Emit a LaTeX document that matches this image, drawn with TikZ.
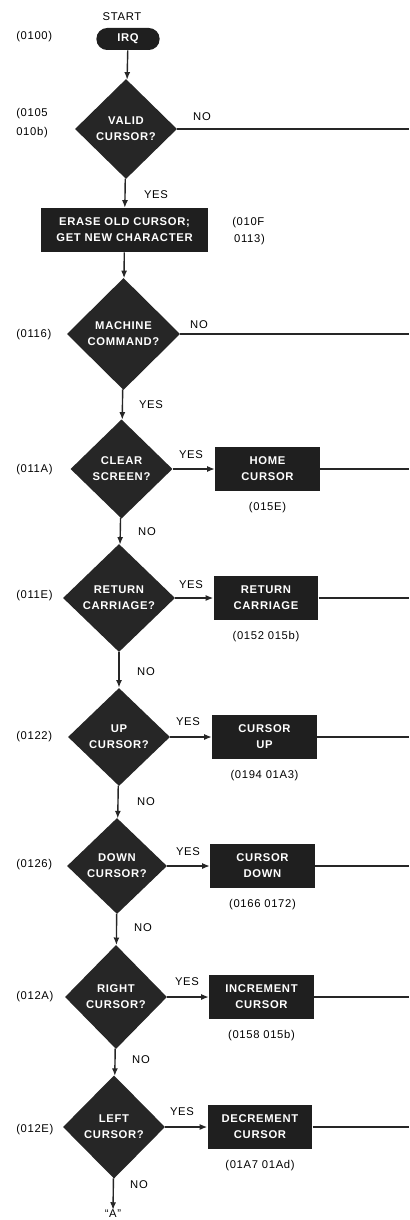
\documentclass[tikz,border=0pt]{standalone}
\usepackage{fontspec}
\setmainfont{Liberation Sans}[LetterSpace=6]
\usetikzlibrary{arrows.meta, positioning, shapes.geometric}
\newcommand{\flowfont}{\fontsize{8}{11.4}\selectfont}
\tikzset{
  decision/.style={diamond, fill=black!85, text=white, font=\flowfont\bfseries, align=center, inner sep=0pt, minimum width=2.55cm, minimum height=2.5cm},
  process/.style={rectangle, fill=black!88, text=white, font=\flowfont\bfseries, align=center, inner sep=1mm, minimum width=2.62cm, minimum height=1.12cm},
  terminal/.style={rectangle, rounded corners=2.7mm, fill=black!88, text=white, font=\flowfont\bfseries, minimum width=1.58cm, minimum height=0.55cm},
  addr/.style={anchor=west, align=left, inner sep=0pt, font=\flowfont},
  tag/.style={inner sep=0pt, font=\flowfont},
  arrow/.style={-{Latex[length=1.9mm, width=1.5mm]}, line width=1pt, draw=black!85},
  line/.style={line width=1pt, draw=black!85}
}

\begin{document}
\begin{tikzpicture}[x=0.025cm, y=-0.025cm]
\useasboundingbox (0,0) rectangle (409,1220);
\coordinate (edge) at (409,0);

% main column
\node[tag] (start) at (122,17) {START};
\node[terminal] (irq) at (128,39) {IRQ};
\node[decision] (valid) at (126,129) {VALID\\CURSOR?};
\node[process, minimum width=4.18cm, minimum height=1.1cm] (erase) at (124.5,230) {ERASE OLD CURSOR;\\GET NEW CHARACTER};
\node[decision, minimum width=2.83cm, minimum height=2.8cm] (machine) at (123.5,334) {MACHINE\\COMMAND?};
\node[decision, minimum height=2.48cm] (clear) at (121.5,469) {CLEAR\\SCREEN?};
\node[decision, minimum width=2.8cm, minimum height=2.7cm] (retcar) at (119,598) {RETURN\\CARRIAGE?};
\node[decision, minimum height=2.45cm] (upcur) at (119,737) {UP\\CURSOR?};
\node[decision, minimum width=2.5cm, minimum height=2.4cm] (downcur) at (117,866) {DOWN\\CURSOR?};
\node[decision, minimum height=2.6cm] (rightcur) at (116,997) {RIGHT\\CURSOR?};
\node[decision, minimum height=2.58cm] (leftcur) at (114,1127) {LEFT\\CURSOR?};
\node[tag] (exitA) at (113,1214) {``A''};

% action boxes
\node[process] (homebox) at (267.5,469) {HOME\\CURSOR};
\node[process] (retbox) at (266,598) {RETURN\\CARRIAGE};
\node[process] (upbox) at (264.5,737) {CURSOR\\UP};
\node[process] (downbox) at (262.5,866) {CURSOR\\DOWN};
\node[process] (incbox) at (261.5,997) {INCREMENT\\CURSOR};
\node[process] (decbox) at (260,1127) {DECREMENT\\CURSOR};

% addresses
\node[addr] (a0100) at (16,37) {(0100)};
\node[addr] (a0105) at (16,123) {(0105\\[2pt]010b)};
\node[addr] (a010F) at (232,231) {(010F\\[1pt]\,0113)};
\node[addr] (a0116) at (16,335) {(0116)};
\node[addr] (a011A) at (16,470) {(011A)};
\node[addr] (a011E) at (16,596) {(011E)};
\node[addr] (a0122) at (16,737) {(0122)};
\node[addr] (a0126) at (16,865) {(0126)};
\node[addr] (a012A) at (16,997) {(012A)};
\node[addr] (a012E) at (16,1130) {(012E)};
\node[tag, below=2.7mm of homebox] (a015E) {(015E)};
\node[tag, below=2.7mm of retbox] (a0152) {(0152 015b)};
\node[tag, below=2.7mm of upbox] (a0194) {(0194 01A3)};
\node[tag, below=2.7mm of downbox] (a0166) {(0166 0172)};
\node[tag, below=2.7mm of incbox] (a0158) {(0158 015b)};
\node[tag, below=2.7mm of decbox] (a01A7) {(01A7 01Ad)};

% yes / no
\node[tag] (no1) at (202,117) {NO};
\node[tag] (yes1) at (156,195) {YES};
\node[tag] (no2) at (199,325) {NO};
\node[tag] (yes2) at (151,405) {YES};
\node[tag] (yes3) at (191,455) {YES};
\node[tag] (no3) at (147,532) {NO};
\node[tag] (yes4) at (191,585) {YES};
\node[tag] (no4) at (146,672) {NO};
\node[tag] (yes5) at (188,722) {YES};
\node[tag] (no5) at (146,802) {NO};
\node[tag] (yes6) at (188,852) {YES};
\node[tag] (no6) at (143,928) {NO};
\node[tag] (yes7) at (187,982) {YES};
\node[tag] (no7) at (141,1060) {NO};
\node[tag] (yes8) at (182,1112) {YES};
\node[tag] (no8) at (139,1185) {NO};

% connectors
\draw[arrow] (irq) -- (valid);
\draw[arrow] (valid) -- (erase);
\draw[arrow] (erase) -- (machine);
\draw[arrow] (machine) -- (clear);
\draw[arrow] (clear) -- (retcar);
\draw[arrow] (retcar) -- (upcur);
\draw[arrow] (upcur) -- (downcur);
\draw[arrow] (downcur) -- (rightcur);
\draw[arrow] (rightcur) -- (leftcur);
\draw[arrow] (leftcur) -- (exitA);
\draw[arrow] (clear) -- (homebox);
\draw[arrow] (retcar) -- (retbox);
\draw[arrow] (upcur) -- (upbox);
\draw[arrow] (downcur) -- (downbox);
\draw[arrow] (rightcur) -- (incbox);
\draw[arrow] (leftcur) -- (decbox);
\draw[line] (valid.east) -- (valid.east -| edge);
\draw[line] (machine.east) -- (machine.east -| edge);
\draw[line] (homebox.east) -- (homebox.east -| edge);
\draw[line] (retbox.east) -- (retbox.east -| edge);
\draw[line] (upbox.east) -- (upbox.east -| edge);
\draw[line] (downbox.east) -- (downbox.east -| edge);
\draw[line] (incbox.east) -- (incbox.east -| edge);
\draw[line] (decbox.east) -- (decbox.east -| edge);
\end{tikzpicture}
\end{document}
